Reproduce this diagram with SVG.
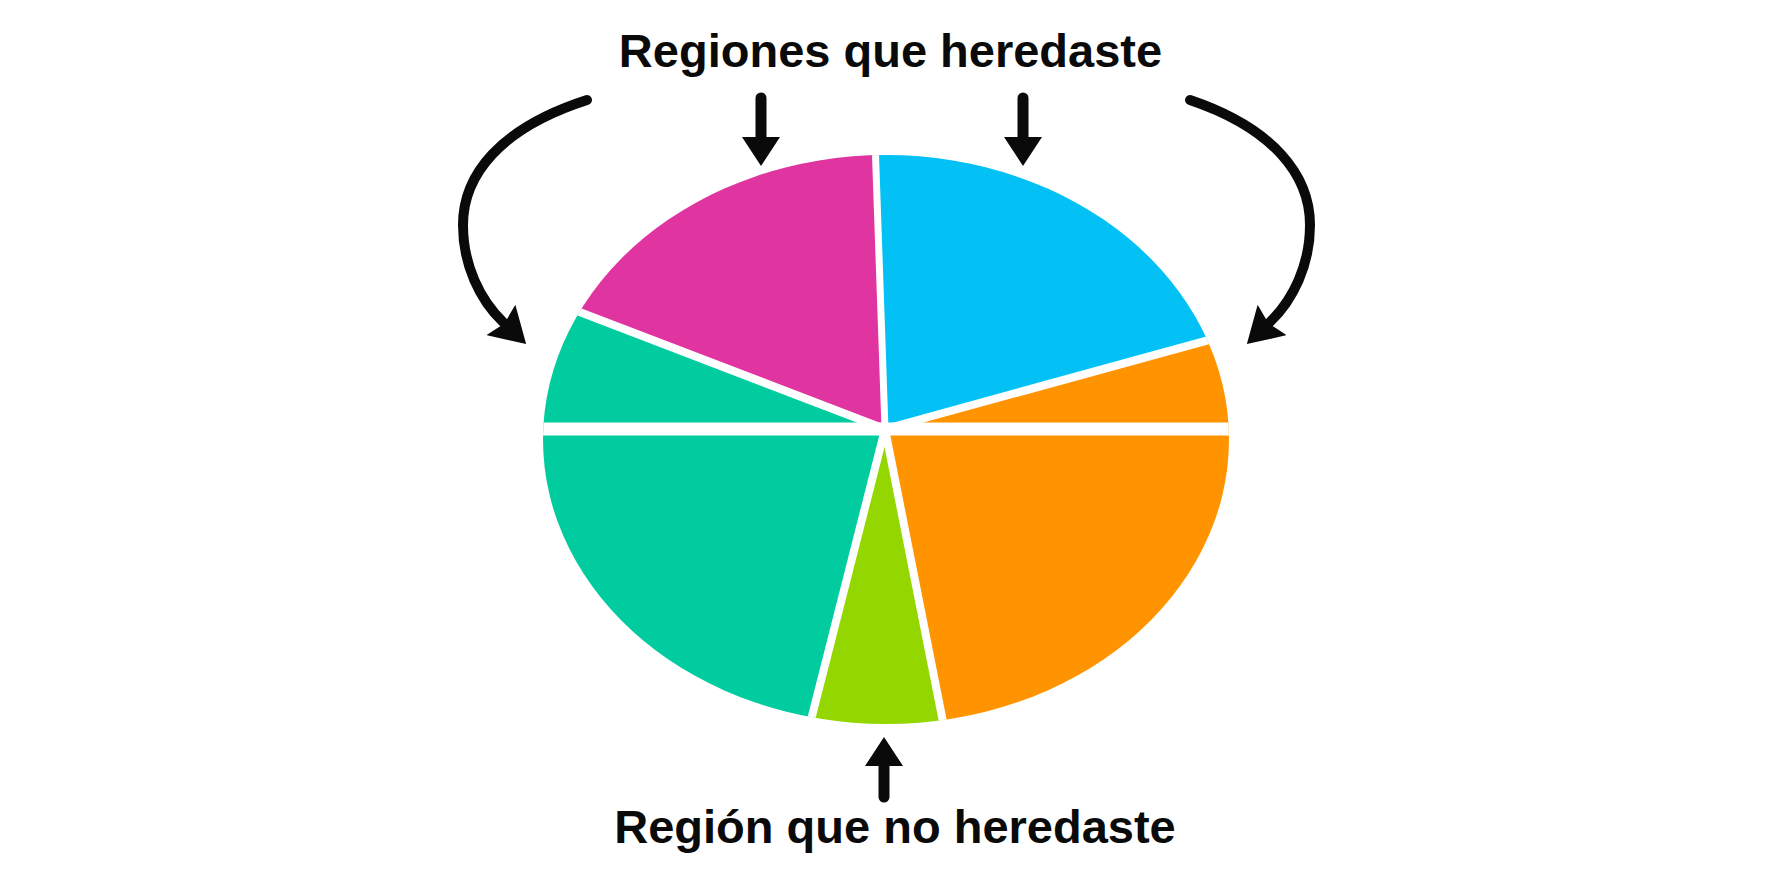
<svg xmlns="http://www.w3.org/2000/svg" width="1774" height="887" viewBox="0 0 1774 887">
  <style>
    .lbl { font-family: "Liberation Sans", Arial, sans-serif; font-weight: bold; font-size: 47px; fill: #0a0a0a; text-anchor: middle; }
    .sep { stroke: #ffffff; fill: none; stroke-linecap: butt; }
    .arr { stroke: #0a0a0a; fill: none; stroke-linecap: round; }
  </style>
  <defs>
    <clipPath id="pie">
      <ellipse cx="886" cy="439.5" rx="343" ry="284.5"/>
    </clipPath>
    <marker id="headCurve" viewBox="0 0 35 42" refX="3" refY="21" markerWidth="35" markerHeight="42" markerUnits="userSpaceOnUse" orient="auto">
      <path d="M0,0 L35,21 L0,42 L5,21 Z" fill="#0a0a0a"/>
    </marker>
    <marker id="headStraight" viewBox="0 0 29 38" refX="2" refY="19" markerWidth="29" markerHeight="38" markerUnits="userSpaceOnUse" orient="auto">
      <path d="M0,0 L29,19 L0,38 Z" fill="#0a0a0a"/>
    </marker>
  </defs>
  <rect width="1774" height="887" fill="#ffffff"/>

  <g clip-path="url(#pie)">
    <g id="slice-magenta"><polygon points="885,429 873.6,100 500,100 500,281.5" fill="#E035A0"/></g>
    <g id="slice-teal-upper"><polygon points="885,429 500,281.5 500,429" fill="#00CCA0"/></g>
    <g id="slice-teal-lower"><polygon points="885,429 500,429 500,780 795.7,780" fill="#00CCA0"/></g>
    <g id="slice-green"><polygon points="885,429 795.7,780 954.5,780" fill="#94D600"/></g>
    <g id="slice-orange-lower"><polygon points="885,429 954.5,780 1280,780 1280,429" fill="#FF9400"/></g>
    <g id="slice-orange-upper"><polygon points="885,429 1280,429 1280,320.5" fill="#FF9400"/></g>
    <g id="slice-cyan"><polygon points="885,429 1280,320.5 1280,100 873.6,100" fill="#03C1F5"/></g>
    <g id="separators">
      <line class="sep" x1="500" y1="429" x2="1280" y2="429" stroke-width="13"/>
      <line class="sep" x1="885" y1="429" x2="873.6" y2="100" stroke-width="7"/>
      <line class="sep" x1="885" y1="429" x2="500" y2="281.5" stroke-width="8"/>
      <line class="sep" x1="885" y1="429" x2="1280" y2="320.5" stroke-width="8"/>
      <line class="sep" x1="885" y1="429" x2="795.7" y2="780" stroke-width="8"/>
      <line class="sep" x1="885" y1="429" x2="954.5" y2="780" stroke-width="8"/>
    </g>
  </g>

  <g id="label-top">
    <text class="lbl" x="890.5" y="67">Regiones que heredaste</text>
  </g>
  <g id="label-bottom">
    <text class="lbl" x="895" y="843">Región que no heredaste</text>
  </g>

  <g id="connectors">
    <path class="arr" stroke-width="10" d="M587,100 C500,128 463,175 463,225 C463,265 480,300 503,322" marker-end="url(#headCurve)"/>
    <path class="arr" stroke-width="10" d="M1190,100 C1273,128 1310,175 1310,225 C1310,265 1293,300 1270,322" marker-end="url(#headCurve)"/>
    <line class="arr" stroke-width="11" x1="761" y1="98" x2="761" y2="139" marker-end="url(#headStraight)"/>
    <line class="arr" stroke-width="11" x1="1023" y1="98" x2="1023" y2="139" marker-end="url(#headStraight)"/>
    <line class="arr" stroke-width="11" x1="884" y1="797" x2="884" y2="764" marker-end="url(#headStraight)"/>
  </g>
</svg>
